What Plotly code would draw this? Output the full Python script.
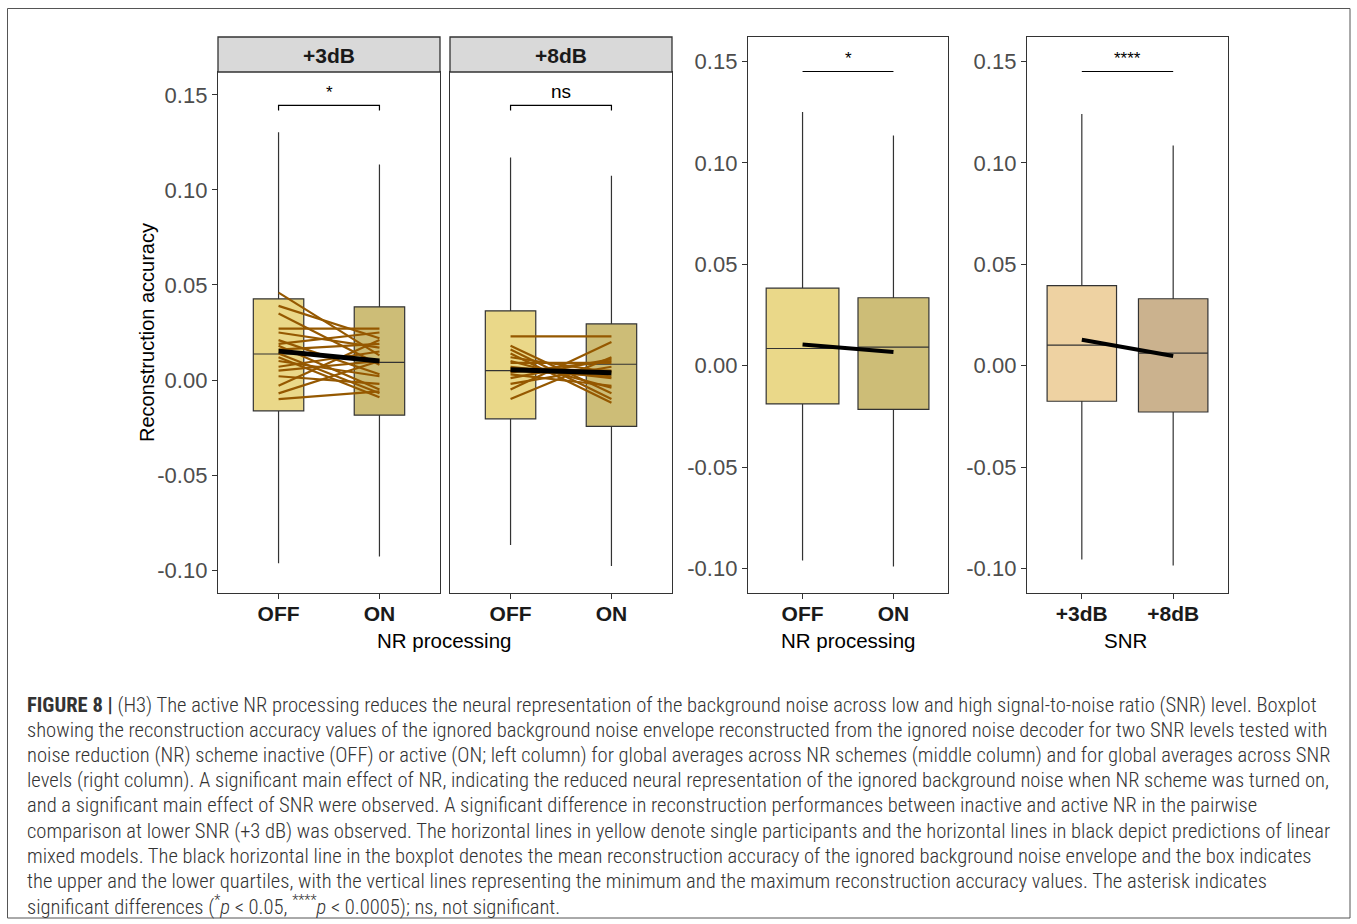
import plotly.graph_objects as go

W, H = 1357, 924

# ---------------- data ----------------
nr_levels = ["OFF", "ON"]
snr_levels = ["+3dB", "+8dB"]
facet_labels = ["+3dB", "+8dB"]
y_ticks = [-0.10, -0.05, 0.00, 0.05, 0.10, 0.15]
y_tick_text = ["-0.10", "-0.05", "0.00", "0.05", "0.10", "0.15"]

# box stats: [lowerfence, q1, median, q3, upperfence]
snr3_off_stats = [-0.0964, -0.0162, 0.0137, 0.0427, 0.1303]
snr3_on_stats = [-0.0928, -0.0185, 0.0093, 0.0385, 0.1134]
snr8_off_stats = [-0.0868, -0.0204, 0.0050, 0.0364, 0.1170]
snr8_on_stats = [-0.0978, -0.0244, 0.0083, 0.0295, 0.1075]
nr_off_stats = [-0.0960, -0.0188, 0.0085, 0.0382, 0.1250]
nr_on_stats = [-0.0990, -0.0215, 0.0092, 0.0335, 0.1135]
snr_3db_stats = [-0.0955, -0.0175, 0.0102, 0.0395, 0.1240]
snr_8db_stats = [-0.0985, -0.0228, 0.0062, 0.0330, 0.1085]

# linear mixed model predictions (black lines)
lmm_snr3 = [0.0152, 0.0100]
lmm_snr8 = [0.0054, 0.0038]
lmm_nr = [0.0105, 0.0068]
lmm_snr = [0.0128, 0.0048]

# single participants (OFF -> ON)
part_snr3_off = [0.046, 0.039, 0.035, 0.027, 0.025, 0.021, 0.019, 0.018, 0.016,
                 0.014, 0.012, 0.010, 0.007, 0.005, 0.002, -0.003, -0.007, -0.010]
part_snr3_on = [0.013, 0.022, 0.008, 0.027, 0.017, 0.003, 0.025, -0.005, 0.019,
                -0.007, -0.009, 0.002, 0.015, 0.010, -0.002, 0.021, 0.010, -0.006]
part_snr8_off = [0.023, 0.018, 0.016, 0.014, 0.012, 0.010, 0.009, 0.007, 0.006,
                 0.005, 0.004, 0.003, 0.001, -0.002, -0.005, -0.010]
part_snr8_on = [0.023, -0.007, -0.010, -0.012, 0.004, -0.004, 0.009, 0.001, 0.005,
                0.002, 0.010, -0.003, 0.011, 0.007, 0.020, 0.012]

sig_labels = ["*", "ns", "*", "****"]
sig_y = 0.1445

caption_lines = [
    "<b>FIGURE 8 |</b> (H3) The active NR processing reduces the neural representation of the background noise across low and high signal-to-noise ratio (SNR) level. Boxplot",
    "showing the reconstruction accuracy values of the ignored background noise envelope reconstructed from the ignored noise decoder for two SNR levels tested with",
    "noise reduction (NR) scheme inactive (OFF) or active (ON; left column) for global averages across NR schemes (middle column) and for global averages across SNR",
    "levels (right column). A significant main effect of NR, indicating the reduced neural representation of the ignored background noise when NR scheme was turned on,",
    "and a significant main effect of SNR were observed. A significant difference in reconstruction performances between inactive and active NR in the pairwise",
    "comparison at lower SNR (+3 dB) was observed. The horizontal lines in yellow denote single participants and the horizontal lines in black depict predictions of linear",
    "mixed models. The black horizontal line in the boxplot denotes the mean reconstruction accuracy of the ignored background noise envelope and the box indicates",
    "the upper and the lower quartiles, with the vertical lines representing the minimum and the maximum reconstruction accuracy values. The asterisk indicates",
    "significant differences (<sup>*</sup><i>p</i> < 0.05, <sup>****</sup><i>p</i> < 0.0005); ns, not significant.",
]

# ---------------- styling ----------------
FONT = "Arial, Liberation Sans, sans-serif"
CAP_FONT = "Liberation Sans Narrow, Roboto Condensed, DejaVu Sans Condensed, Arial, sans-serif"
col_off = "#EAD889"
col_on = "#CDBD77"
col_3db = "#EED2A2"
col_8db = "#CBB28E"
col_part = "#955800"
frame_col = "#333333"

def px(x):
    return x / W

def py(y):
    return 1 - y / H

panels = [
    dict(x0=218, x1=440, y0=72, y1=593),
    dict(x0=450, x1=672, y0=72, y1=593),
    dict(x0=748, x1=948, y0=37, y1=593),
    dict(x0=1027, x1=1228, y0=37, y1=593),
]

fig = go.Figure()

def add_box(stats, xpos, color, ax, width):
    lo, q1, med, q3, hi = stats
    fig.add_trace(go.Box(
        x=[xpos], q1=[q1], median=[med], q3=[q3], lowerfence=[lo], upperfence=[hi],
        width=width, fillcolor=color, line=dict(color=frame_col, width=1.2),
        whiskerwidth=0, boxpoints=False, showlegend=False, hoverinfo="skip",
        xaxis="x" + ax, yaxis="y" + ax))

def add_participants(off, on, ax):
    xs, ys = [], []
    for a, b in zip(off, on):
        xs += [0, 1, None]
        ys += [a, b, None]
    fig.add_trace(go.Scatter(x=xs, y=ys, mode="lines",
                             line=dict(color=col_part, width=2.2),
                             showlegend=False, hoverinfo="skip",
                             xaxis="x" + ax, yaxis="y" + ax))

def add_lmm(vals, ax, width):
    fig.add_trace(go.Scatter(x=[0, 1], y=vals, mode="lines",
                             line=dict(color="black", width=width),
                             showlegend=False, hoverinfo="skip",
                             xaxis="x" + ax, yaxis="y" + ax))

# panel 1 (+3dB)
add_box(snr3_off_stats, 0, col_off, "", 0.5)
add_box(snr3_on_stats, 1, col_on, "", 0.5)
add_participants(part_snr3_off, part_snr3_on, "")
add_lmm(lmm_snr3, "", 5)
# panel 2 (+8dB)
add_box(snr8_off_stats, 0, col_off, "2", 0.5)
add_box(snr8_on_stats, 1, col_on, "2", 0.5)
add_participants(part_snr8_off, part_snr8_on, "2")
add_lmm(lmm_snr8, "2", 5)
# panel 3 (NR global)
add_box(nr_off_stats, 0, col_off, "3", 0.8)
add_box(nr_on_stats, 1, col_on, "3", 0.78)
add_lmm(lmm_nr, "3", 4)
# panel 4 (SNR global)
add_box(snr_3db_stats, 0, col_3db, "4", 0.76)
add_box(snr_8db_stats, 1, col_8db, "4", 0.76)
add_lmm(lmm_snr, "4", 4)

layout = dict(
    width=W, height=H,
    margin=dict(l=0, r=0, t=0, b=0),
    paper_bgcolor="white", plot_bgcolor="white",
    font=dict(family=FONT, color="black"),
    showlegend=False,
)

xticks_text = [nr_levels, nr_levels, nr_levels, snr_levels]
for i, p in enumerate(panels):
    sfx = "" if i == 0 else str(i + 1)
    layout["xaxis" + sfx] = dict(
        domain=[px(p["x0"]), px(p["x1"])], anchor="y" + sfx,
        range=[-0.6, 1.6], tickvals=[0, 1], ticktext=xticks_text[i],
        showgrid=False, zeroline=False, showline=True, mirror=True,
        linecolor=frame_col, linewidth=1.3, ticks="outside", ticklen=5,
        tickcolor=frame_col, tickwidth=1.2, ticklabelstandoff=-3,
        tickfont=dict(family=FONT, size=21, color="#1a1a1a", weight="bold"),
    )
    layout["yaxis" + sfx] = dict(
        domain=[py(p["y1"]), py(p["y0"])], anchor="x" + sfx,
        range=[-0.112, 0.162], tickvals=y_ticks, ticktext=y_tick_text,
        showgrid=False, zeroline=False, showline=True, mirror=True,
        linecolor=frame_col, linewidth=1.3,
        ticks="" if i == 1 else "outside", ticklen=5,
        tickcolor=frame_col, tickwidth=1.2,
        showticklabels=(i != 1),
        tickfont=dict(family=FONT, size=22, color="#4D4D4D"),
    )
fig.update_layout(**layout)

shapes = []
annotations = []

# facet strips
for i in range(2):
    p = panels[i]
    shapes.append(dict(type="rect", xref="paper", yref="paper",
                       x0=px(p["x0"]), x1=px(p["x1"]), y0=py(72), y1=py(37),
                       fillcolor="#D9D9D9", line=dict(color=frame_col, width=1.3)))
    annotations.append(dict(xref="paper", yref="paper",
                            x=px((p["x0"] + p["x1"]) / 2), y=py(55),
                            text=facet_labels[i], showarrow=False,
                            font=dict(family=FONT, size=21, color="#1a1a1a", weight="bold"),
                            xanchor="center", yanchor="middle"))

# significance brackets
for i in range(4):
    sfx = "" if i == 0 else str(i + 1)
    xr, yr = "x" + sfx, "y" + sfx
    if i < 2:
        shapes.append(dict(type="path", xref=xr, yref=yr,
                           path=f"M 0 {sig_y - 0.0028} L 0 {sig_y} L 1 {sig_y} L 1 {sig_y - 0.0028}",
                           line=dict(color="black", width=1.2)))
        ty = sig_y + 0.0005
    else:
        shapes.append(dict(type="line", xref=xr, yref=yr, x0=0, x1=1,
                           y0=0.145, y1=0.145, line=dict(color="black", width=1.2)))
        ty = 0.1455
    annotations.append(dict(xref=xr, yref=yr, x=0.5, y=ty, text=sig_labels[i],
                            showarrow=False, xanchor="center", yanchor="bottom",
                            font=dict(family=FONT, size=19 if sig_labels[i] == "ns" else 17,
                                      color="black")))

# axis titles
annotations.append(dict(xref="paper", yref="paper", x=px(147), y=py(333),
                        text="Reconstruction accuracy", textangle=-90, showarrow=False,
                        font=dict(family=FONT, size=20, color="black"),
                        xanchor="center", yanchor="middle"))
for xc, t in [(444, "NR processing"), (848, "NR processing"), (1125, "SNR")]:
    annotations.append(dict(xref="paper", yref="paper", x=px(xc), y=py(640), text=t,
                            showarrow=False, font=dict(family=FONT, size=20.5, color="black"),
                            xanchor="center", yanchor="middle"))

# caption
for k, line in enumerate(caption_lines):
    annotations.append(dict(xref="paper", yref="paper", x=px(25), y=py(705 + 25.1 * k),
                            text=line, showarrow=False, xanchor="left", yanchor="middle",
                            font=dict(family=CAP_FONT, size=20.6, color="#333333", weight=300)))

# outer frame
shapes.append(dict(type="rect", xref="paper", yref="paper",
                   x0=px(7.5), x1=px(1350), y0=py(918), y1=py(8.5),
                   line=dict(color="#555555", width=1), fillcolor="rgba(0,0,0,0)"))

fig.update_layout(shapes=shapes, annotations=annotations)
fig.write_html("out.html", config={"displayModeBar": False},
               post_script="document.body.style.margin='0';document.body.style.overflow='hidden';")
